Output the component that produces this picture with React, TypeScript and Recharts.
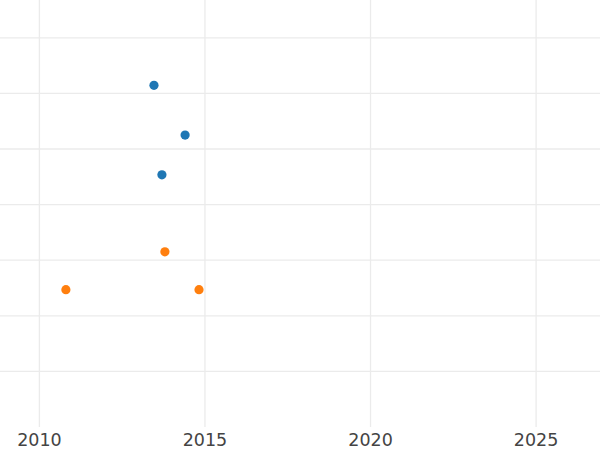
import { CartesianGrid, Scatter, ScatterChart, XAxis, YAxis } from "recharts";

const blueYears = [2013.46, 2014.4, 2013.7];
const blueValues = [6.146, 5.25, 4.535];
const orangeYears = [2013.79, 2010.8, 2014.82];
const orangeValues = [3.15, 2.47, 2.47];

const xTicks = [2010, 2015, 2020, 2025];
const yTicks = [1, 2, 3, 4, 5, 6, 7];

const W = 600;
const H = 450;

const bluePts = blueYears.map((x, i) => ({ x, y: blueValues[i] }));
const orangePts = orangeYears.map((x, i) => ({ x, y: orangeValues[i] }));

const dot = (color: string) => (p: { cx?: number; cy?: number }) =>
  p.cx == null || p.cy == null ? <g /> : <circle cx={p.cx} cy={p.cy} r={4.6} fill={color} />;

export default function App() {
  return (
    <div style={{ position: "absolute", left: 0, top: 0, width: W, height: H, background: "#fff" }}>
      <ScatterChart width={W} height={H} margin={{ top: 0, right: 0, bottom: 0, left: 0 }}>
        <CartesianGrid
          stroke="#ebebeb"
          strokeWidth={1.3}
          horizontalValues={yTicks}
          verticalValues={xTicks}
        />
        <XAxis
          type="number"
          dataKey="x"
          domain={[2008.81, 2026.93]}
          ticks={xTicks}
          allowDataOverflow
          axisLine={false}
          tickLine={false}
          height={23}
          tickMargin={1}
          tick={{ fill: "#444", fontSize: 17.5, fontFamily: "DejaVu Sans" }}
        />
        <YAxis type="number" dataKey="y" domain={[0, 7.68]} ticks={yTicks} allowDataOverflow hide width={0} />
        <Scatter data={bluePts} fill="#1f77b4" isAnimationActive={false} shape={dot("#1f77b4")} />
        <Scatter data={orangePts} fill="#ff7f0e" isAnimationActive={false} shape={dot("#ff7f0e")} />
      </ScatterChart>
    </div>
  );
}
